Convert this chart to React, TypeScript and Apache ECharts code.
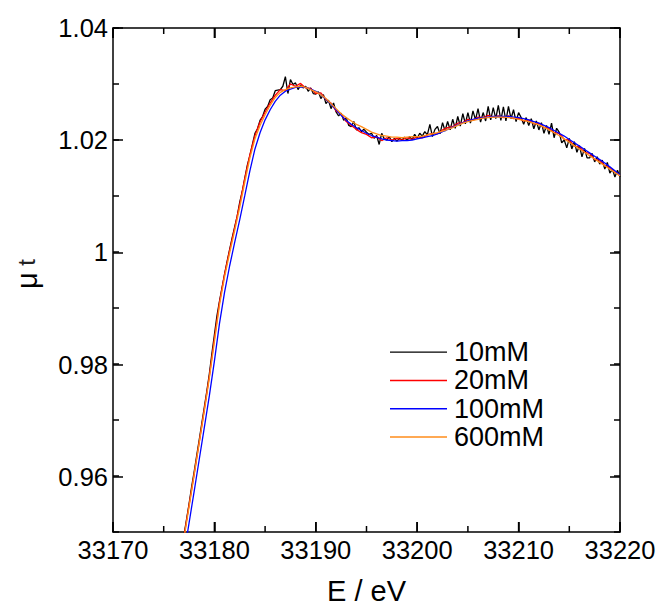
import React, { useEffect, useRef } from "react";
import * as echarts from "echarts";

// Energy grids (uniform sampling of the measured spectra)
const E_START = 33177;
const STEP_FINE = 0.25; // 10mM
const STEP = 0.5; // 20mM, 100mM, 600mM

const seriesNames = ["10mM", "20mM", "100mM", "600mM"];
const seriesColors = ["#000000", "#ff0000", "#0000ff", "#ff8c1a"];

const mu10mM = [
  0.9495, 0.9522, 0.955, 0.958,
  0.9607, 0.9636, 0.9664, 0.9693,
  0.9722, 0.9751, 0.9782, 0.9818,
  0.9852, 0.9886, 0.9912, 0.9936,
  0.996, 0.9983, 1.0004, 1.0025,
  1.0045, 1.0064, 1.0089, 1.0108,
  1.0132, 1.0155, 1.0172, 1.0192,
  1.0212, 1.022, 1.0235, 1.0242,
  1.0255, 1.026, 1.0272, 1.0275,
  1.0288, 1.0289, 1.029, 1.0296,
  1.0313, 1.0283, 1.0308, 1.0299,
  1.0302, 1.029, 1.0298, 1.0293,
  1.0296, 1.0287, 1.0293, 1.0283,
  1.0282, 1.0286, 1.0274, 1.0281,
  1.0265, 1.0271, 1.0256, 1.0266,
  1.025, 1.0243, 1.0248, 1.0235,
  1.024, 1.0226, 1.0224, 1.0233,
  1.0218, 1.0222, 1.0215, 1.0219,
  1.0214, 1.021, 1.0212, 1.0203,
  1.0208, 1.0192, 1.0212, 1.0202,
  1.02, 1.0206, 1.0197, 1.0203,
  1.0198, 1.0203, 1.02, 1.0205,
  1.0199, 1.0206, 1.0201, 1.021,
  1.0203, 1.0212, 1.0207, 1.0215,
  1.0209, 1.0228, 1.0206, 1.0219,
  1.0224, 1.0211, 1.0231, 1.0216,
  1.0233, 1.0218, 1.0237, 1.0221,
  1.0242, 1.0225, 1.0247, 1.0229,
  1.0249, 1.023, 1.0252, 1.0236,
  1.0256, 1.0232, 1.0249, 1.0234,
  1.026, 1.0236, 1.0258, 1.0238,
  1.0262, 1.0235, 1.0259, 1.0234,
  1.026, 1.0238, 1.0254, 1.0233,
  1.0249, 1.024, 1.0228, 1.024,
  1.0226, 1.0238, 1.022, 1.0234,
  1.0218, 1.0231, 1.0212, 1.0226,
  1.021, 1.023, 1.0204, 1.0221,
  1.0214, 1.0195, 1.02, 1.0186,
  1.0203, 1.0184, 1.0197, 1.0178,
  1.019, 1.017, 1.0185, 1.0168,
  1.0168, 1.0176, 1.0161, 1.017,
  1.0157, 1.0164, 1.0148, 1.016,
  1.0141, 1.0148, 1.0134, 1.0146,
  1.0134,
];

const mu20mM = [
  0.9492, 0.9548, 0.9603, 0.966, 0.9718, 0.9778, 0.9845, 0.991, 0.996, 1.0003,
  1.0043, 1.0086, 1.0132, 1.0174, 1.0208, 1.0232, 1.025, 1.0266, 1.028, 1.029,
  1.0288, 1.03, 1.0296, 1.0301, 1.0293, 1.0292, 1.0283, 1.0284, 1.0272, 1.0266,
  1.0252, 1.0246, 1.0233, 1.0226, 1.0219, 1.0213, 1.021, 1.0204, 1.0206, 1.0199,
  1.0204, 1.02, 1.0203, 1.02, 1.0204, 1.0201, 1.0206, 1.0204, 1.0209, 1.0212,
  1.0211, 1.0218, 1.0222, 1.0224, 1.023, 1.0231, 1.0237, 1.0235, 1.0241, 1.024,
  1.0244, 1.0241, 1.0243, 1.024, 1.0243, 1.0238, 1.0239, 1.0234, 1.0236, 1.0229,
  1.023, 1.0222, 1.0221, 1.0213, 1.0212, 1.0201, 1.02, 1.0189, 1.0188, 1.0178,
  1.0176, 1.0165, 1.0164, 1.0154, 1.0151, 1.0142, 1.0138,
];

const mu100mM = [
  0.946, 0.9516, 0.9572, 0.9629, 0.9686, 0.9743, 0.9805, 0.9872, 0.9928, 0.9975,
  1.0017, 1.0058, 1.0101, 1.0145, 1.0184, 1.0213, 1.0236, 1.0254, 1.0269, 1.028,
  1.0287, 1.0291, 1.0294, 1.0295, 1.0294, 1.0291, 1.0287, 1.0281, 1.0273, 1.0264,
  1.0254, 1.0244, 1.0235, 1.0228, 1.0222, 1.0217, 1.0212, 1.0208, 1.0205, 1.0202,
  1.02, 1.0199, 1.0198, 1.0199, 1.0199, 1.02, 1.0202, 1.0204, 1.0206, 1.0208,
  1.0211, 1.0215, 1.0219, 1.0223, 1.0227, 1.0231, 1.0234, 1.0237, 1.0239, 1.024,
  1.0241, 1.0242, 1.0242, 1.0242, 1.0242, 1.0241, 1.024, 1.0238, 1.0236, 1.0233,
  1.023, 1.0226, 1.0222, 1.0217, 1.0212, 1.0207, 1.0201, 1.0195, 1.0189, 1.0183,
  1.0177, 1.0171, 1.0165, 1.0159, 1.0152, 1.0145, 1.0138,
];

const mu600mM = [
  0.9489, 0.9545, 0.9602, 0.9659, 0.9716, 0.9775, 0.984, 0.9905, 0.9955, 0.9998,
  1.0038, 1.008, 1.0125, 1.0168, 1.0202, 1.0226, 1.0245, 1.0262, 1.0276, 1.0285,
  1.029, 1.0293, 1.0295, 1.0296, 1.0294, 1.029, 1.0286, 1.0281, 1.0274, 1.0265,
  1.0256, 1.0247, 1.024, 1.0234, 1.0228, 1.0224, 1.0219, 1.0214, 1.0211, 1.0208,
  1.0207, 1.0205, 1.0205, 1.0204, 1.0205, 1.0206, 1.0206, 1.0207, 1.0209, 1.0211,
  1.0213, 1.0216, 1.0219, 1.0222, 1.0226, 1.023, 1.0233, 1.0235, 1.0237, 1.0239,
  1.024, 1.0241, 1.0241, 1.0241, 1.024, 1.0239, 1.0237, 1.0235, 1.0233, 1.023,
  1.0227, 1.0223, 1.0218, 1.0213, 1.0208, 1.0202, 1.0196, 1.019, 1.0184, 1.0178,
  1.0172, 1.0166, 1.016, 1.0154, 1.0148, 1.0142, 1.0136,
];

// Axis ranges and tick spacing
const xRange = { min: 33170, max: 33220 };
const xMajorInterval = 10;
const xTickValues = [33170, 33175, 33180, 33185, 33190, 33195, 33200, 33205, 33210, 33215, 33220];
const yRange = { min: 0.95, max: 1.04 };
const yMinorInterval = 0.01;
const yMajorRange = { min: 0.96, max: 1.04 };
const yMajorInterval = 0.02;

const FONT = "'Liberation Sans', Arial, Helvetica, sans-serif";

// plot rectangle (pixels)
const PLOT = { left: 113, top: 28, right: 44, bottom: 77 };
const PLOT_H = 610 - PLOT.top - PLOT.bottom;
const MAJOR_LEN = 10;
const MINOR_LEN = 6;
const TICK_W = 1.5;

function toPairs(values: number[], step: number) {
  return values.map((v, i) => [E_START + i * step, v]);
}

export default function App() {
  const ref = useRef<HTMLDivElement>(null);

  useEffect(() => {
    if (!ref.current) return;
    const chart = echarts.init(ref.current, null, { renderer: "svg" });
    const axisLine = { show: true, onZero: false, lineStyle: { color: "#000", width: 1.5 } };
    const noLine = { show: false, onZero: false };
    const tickStyle = { color: "#000", width: 1.5 };
    const hidden = {
      axisLine: noLine,
      axisTick: { show: false },
      axisLabel: { show: false },
      splitLine: { show: false },
    };

    // grid 1 covers only the 0.96..1.04 part so its interval ticks fall on the major values
    const majorBottom =
      610 - (PLOT.top + ((yMajorRange.max - yMajorRange.min) / (yRange.max - yRange.min)) * PLOT_H);

    const option: any = {
      animation: false,
      backgroundColor: "#ffffff",
      grid: [
        { ...PLOT, containLabel: false },
        { left: PLOT.left, right: PLOT.right, top: PLOT.top, bottom: majorBottom, containLabel: false },
      ],
      legend: {
        data: seriesNames,
        orient: "vertical",
        left: 390,
        top: 338,
        padding: 0,
        icon: "rect",
        itemWidth: 57,
        itemHeight: 1.4,
        itemGap: 0,
        textStyle: {
          fontSize: 27,
          lineHeight: 28.3,
          color: "#000",
          fontFamily: FONT,
          padding: [0, 0, 0, 2],
        },
      },
      xAxis: [
        {
          gridIndex: 0,
          type: "value",
          position: "bottom",
          ...xRange,
          interval: xMajorInterval,
          axisLine,
          axisTick: { show: true, inside: true, length: MAJOR_LEN, lineStyle: tickStyle },
          axisLabel: {
            fontSize: 25.5,
            color: "#000",
            fontFamily: FONT,
            margin: 5,
            formatter: (v: number) => String(v),
          },
          splitLine: { show: false },
          name: "E / eV",
          nameLocation: "middle",
          nameGap: 44,
          nameTextStyle: { fontSize: 29, color: "#000", fontFamily: FONT },
        },
        {
          gridIndex: 0,
          type: "value",
          position: "top",
          ...xRange,
          interval: xMajorInterval,
          axisLine,
          axisTick: { show: true, inside: true, length: MAJOR_LEN, lineStyle: tickStyle },
          axisLabel: { show: false },
          splitLine: { show: false },
        },
        { gridIndex: 1, type: "value", ...xRange, ...hidden },
      ],
      yAxis: [
        {
          gridIndex: 0,
          type: "value",
          position: "left",
          ...yRange,
          interval: yMinorInterval,
          axisLine,
          axisTick: { show: true, inside: true, length: MINOR_LEN, lineStyle: tickStyle },
          axisLabel: { show: false },
          splitLine: { show: false },
          name: "{a|μ}  {b|t}",
          nameLocation: "middle",
          nameGap: 72,
          nameTextStyle: {
            color: "#000",
            fontFamily: FONT,
            padding: [0, 0, 0, 12],
            rich: {
              a: { fontSize: 29, fontFamily: FONT, color: "#000" },
              b: { fontSize: 24, fontFamily: FONT, color: "#222", fontWeight: "lighter" },
            },
          },
        },
        {
          gridIndex: 0,
          type: "value",
          position: "right",
          ...yRange,
          interval: yMinorInterval,
          axisLine,
          axisTick: { show: true, inside: true, length: MINOR_LEN, lineStyle: tickStyle },
          axisLabel: { show: false },
          splitLine: { show: false },
        },
        {
          gridIndex: 1,
          type: "value",
          position: "left",
          ...yMajorRange,
          interval: yMajorInterval,
          axisLine: noLine,
          axisTick: { show: true, inside: true, length: MAJOR_LEN, lineStyle: tickStyle },
          axisLabel: {
            show: true,
            formatter: (v: number) => String(+v.toFixed(2)),
            fontSize: 25.5,
            color: "#000",
            fontFamily: FONT,
            margin: 5,
          },
          splitLine: { show: false },
        },
        {
          gridIndex: 1,
          type: "value",
          position: "right",
          ...yMajorRange,
          interval: yMajorInterval,
          axisLine: noLine,
          axisTick: { show: true, inside: true, length: MAJOR_LEN, lineStyle: tickStyle },
          axisLabel: { show: false },
          splitLine: { show: false },
        },
      ],
      series: [
        { values: mu10mM, step: STEP_FINE },
        { values: mu20mM, step: STEP },
        { values: mu100mM, step: STEP },
        { values: mu600mM, step: STEP },
      ].map((s, i) => ({
        name: seriesNames[i],
        type: "line",
        xAxisIndex: 0,
        yAxisIndex: 0,
        data: toPairs(s.values, s.step),
        showSymbol: false,
        symbol: "none",
        clip: true,
        color: seriesColors[i],
        lineStyle: { color: seriesColors[i], width: 1.3 },
        z: 2 + i,
      })),
    };
    chart.setOption(option);

    // inside x tick marks on bottom and top frame edges, placed through the x axis scale
    const tickRects: any[] = [];
    xTickValues.forEach((v) => {
      const pb = chart.convertToPixel({ gridIndex: 0 }, [v, yRange.min]) as number[];
      const pt = chart.convertToPixel({ gridIndex: 0 }, [v, yRange.max]) as number[];
      if (!pb || !pt) return;
      const len = Math.abs(v - xRange.min) % xMajorInterval < 1e-6 ? MAJOR_LEN : MINOR_LEN;
      tickRects.push({
        type: "rect",
        silent: true,
        z: 100,
        shape: { x: pb[0] - TICK_W / 2, y: pb[1] - len, width: TICK_W, height: len },
        style: { fill: "#000" },
      });
      tickRects.push({
        type: "rect",
        silent: true,
        z: 100,
        shape: { x: pt[0] - TICK_W / 2, y: pt[1], width: TICK_W, height: len },
        style: { fill: "#000" },
      });
    });
    chart.setOption({ graphic: tickRects });

    return () => chart.dispose();
  }, []);

  return (
    <div
      ref={ref}
      style={{ position: "fixed", left: 0, top: 0, width: 664, height: 610, background: "#fff" }}
    />
  );
}
